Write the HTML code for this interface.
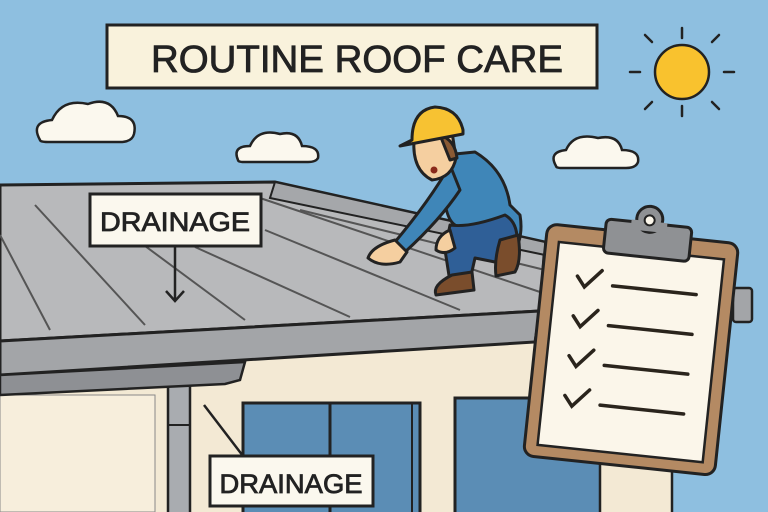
<!DOCTYPE html>
<html><head><style>body{margin:0}svg{display:block}</style></head><body>
<svg width="768" height="512" viewBox="0 0 768 512" xmlns="http://www.w3.org/2000/svg" font-family="Liberation Sans, sans-serif">
<rect width="768" height="512" fill="#8ebfe0"/>
<!-- clouds -->
<g fill="#fbf8ee" stroke="#222" stroke-width="2.5">
<path d="M40 140 Q30 122 52 120 Q62 98 88 104 Q110 96 118 116 Q138 116 134 134 Q132 142 120 142 L48 142 Q40 142 40 140Z"/>
<path d="M238 160 Q232 146 250 146 Q258 128 280 134 Q298 130 302 146 Q320 146 318 158 Q316 162 308 162 L244 162 Q238 162 238 160Z"/>
<path d="M556 166 Q548 152 566 150 Q574 132 598 138 Q618 134 622 150 Q640 150 638 162 Q636 168 626 168 L562 168 Q556 168 556 166Z"/>
</g>
<!-- sun -->
<g stroke="#222" stroke-width="2.5" stroke-linecap="round">
<line x1="682" y1="28" x2="682" y2="38"/><line x1="682" y1="106" x2="682" y2="116"/>
<line x1="640" y1="72" x2="630" y2="72"/><line x1="724" y1="72" x2="734" y2="72"/>
<line x1="652" y1="42" x2="645" y2="35"/><line x1="712" y1="42" x2="719" y2="35"/>
<line x1="652" y1="102" x2="645" y2="109"/><line x1="712" y1="102" x2="719" y2="109"/>
</g>
<circle cx="682" cy="72" r="27" fill="#f9c22e" stroke="#222" stroke-width="2.5"/>
<!-- title -->
<rect x="107" y="25" width="490" height="63" fill="#f9f2dc" stroke="#222" stroke-width="3"/>
<text x="357" y="72" text-anchor="middle" font-size="38" fill="#222" stroke="#222" stroke-width="0.8" textLength="412" lengthAdjust="spacingAndGlyphs">ROUTINE ROOF CARE</text>
<!-- wall -->
<polygon points="0,380 560,335 600,512 0,512" fill="#f3e9d4"/>
<rect x="0" y="395" width="155" height="117" fill="#f7eedc" stroke="#888" stroke-width="1"/>
<!-- windows -->
<rect x="243" y="403" width="177" height="115" fill="#5b8db5" stroke="#222" stroke-width="3"/>
<line x1="330" y1="403" x2="330" y2="512" stroke="#222" stroke-width="3"/>
<line x1="412" y1="403" x2="412" y2="512" stroke="#222" stroke-width="2"/>
<rect x="455" y="398" width="160" height="120" fill="#5b8db5" stroke="#222" stroke-width="3"/>
<!-- downspout -->
<rect x="168" y="385" width="22" height="130" fill="#a9acb0" stroke="#222" stroke-width="2.5"/>
<line x1="168" y1="425" x2="190" y2="425" stroke="#222" stroke-width="2"/>
<!-- roof -->
<polygon points="0,185 275,182 545,242 540,311 0,341" fill="#b8b9bb" stroke="#222" stroke-width="3"/>
<polygon points="275,182 545,242 545,255 270,198" fill="#a5a7aa" stroke="#222" stroke-width="2"/>
<g stroke="#555" stroke-width="2">
<line x1="0" y1="235" x2="50" y2="330"/><line x1="35" y1="205" x2="145" y2="325"/>
<line x1="110" y1="220" x2="245" y2="320"/><line x1="195" y1="247" x2="350" y2="317"/>
<line x1="265" y1="230" x2="460" y2="310"/><line x1="260" y1="198" x2="540" y2="292"/>
<line x1="300" y1="210" x2="545" y2="270"/>
</g>
<polygon points="0,341 540,311 535,342 0,375" fill="#a3a5a8" stroke="#222" stroke-width="3"/>
<polygon points="0,375 245,362 240,380 225,384 0,395" fill="#8e9094" stroke="#222" stroke-width="2.5"/>
<rect x="733" y="288" width="19" height="34" rx="3" fill="#a3a5a8" stroke="#222" stroke-width="2.5"/>
<!-- worker -->
<g stroke="#222" stroke-width="3" stroke-linejoin="round">
<path d="M445 155 L475 152 Q505 170 510 205 L520 215 Q525 245 505 262 L470 255 L455 225 Q440 215 445 155Z" fill="#3f86b8"/>
<path d="M450 165 Q430 200 395 242 L405 252 Q440 220 460 190Z" fill="#3f86b8"/>
<path d="M395 240 Q372 246 368 258 Q380 268 400 262 L407 252Z" fill="#f5cfa0"/>
<path d="M450 225 Q470 228 505 215 Q522 225 515 255 L495 262 L475 258 L470 280 L450 282 L445 250Z" fill="#2f5f97"/>
<path d="M450 230 Q436 236 436 250 Q445 256 455 248Z" fill="#f5cfa0"/>
<path d="M452 275 L472 272 L474 290 L436 295 Q432 285 452 275Z" fill="#7a4d2c"/>
<path d="M500 240 L518 235 Q522 260 515 272 L496 276 Q494 260 500 240Z" fill="#7a4d2c"/>
<path d="M414 140 Q412 170 432 180 Q452 178 456 158 L452 132 L416 132Z" fill="#f5cfa0"/>
<path d="M440 135 Q455 140 457 158 L450 160 Z" fill="#8a5a34"/>
<path d="M400 146 L412 140 Q412 110 435 107 Q458 108 463 130 L463 134 L400 146Z" fill="#f7c232"/>
<circle cx="434" cy="170" r="3.5" fill="#8a2a1a" stroke="none"/>
</g>
<!-- labels -->
<rect x="90" y="194" width="171" height="52" fill="#fbf8ee" stroke="#222" stroke-width="3"/>
<text x="175" y="231" text-anchor="middle" font-size="27" fill="#222" stroke="#222" stroke-width="0.8" textLength="150" lengthAdjust="spacingAndGlyphs">DRAINAGE</text>
<line x1="175" y1="246" x2="175" y2="301" stroke="#222" stroke-width="2.5"/>
<polyline points="166,291 175,301 184,291" fill="none" stroke="#222" stroke-width="2.5"/>
<line x1="204" y1="405" x2="243" y2="456" stroke="#222" stroke-width="2.5"/>
<rect x="210" y="456" width="163" height="50" fill="#fbf8ee" stroke="#222" stroke-width="3"/>
<text x="291" y="493" text-anchor="middle" font-size="27" fill="#222" stroke="#222" stroke-width="0.8" textLength="143" lengthAdjust="spacingAndGlyphs">DRAINAGE</text>
<!-- post -->
<rect x="600" y="460" width="72" height="60" fill="#f3e9d4" stroke="#222" stroke-width="2.5"/>
<!-- clipboard -->
<g transform="rotate(6 630 350)">
<rect x="535" y="233" width="192" height="233" rx="10" fill="#b48a63" stroke="#222" stroke-width="3"/>
<rect x="548" y="250" width="166" height="204" fill="#fbf6ea" stroke="#222" stroke-width="2.5"/>
<rect x="593" y="222" width="86" height="34" rx="5" fill="#8f9194" stroke="#222" stroke-width="3"/>
<circle cx="636" cy="218" r="13" fill="#8f9194" stroke="#222" stroke-width="3"/>
<rect x="618" y="220" width="36" height="10" fill="#8f9194"/>
<circle cx="636" cy="219" r="5" fill="#fbf6ea" stroke="#222" stroke-width="2"/>
<g fill="none" stroke="#2a241c" stroke-width="3.5" stroke-linecap="round">
<polyline points="570,282 578,292 594,274"/><line x1="606" y1="288" x2="690" y2="288"/>
<polyline points="570,322 578,332 594,314"/><line x1="606" y1="328" x2="690" y2="328"/>
<polyline points="570,362 578,372 594,354"/><line x1="606" y1="368" x2="690" y2="368"/>
<polyline points="570,402 578,412 594,394"/><line x1="606" y1="408" x2="690" y2="408"/>
</g>
</g>
</svg>
</body></html>
